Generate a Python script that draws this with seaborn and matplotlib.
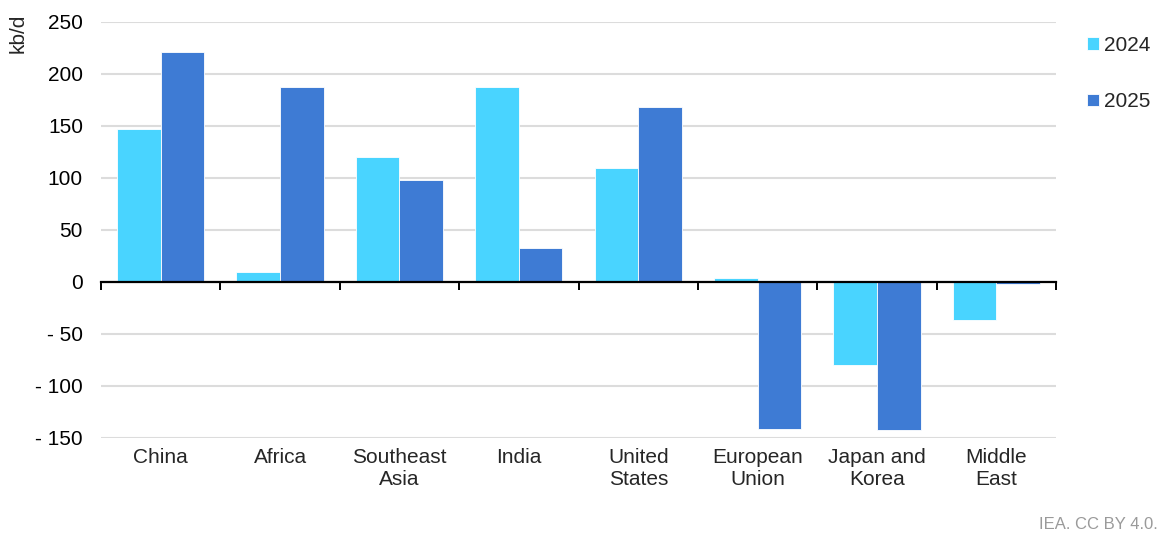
import pandas as pd
import matplotlib
matplotlib.use("Agg")
import matplotlib.pyplot as plt
from matplotlib.ticker import FuncFormatter, FixedLocator
import seaborn as sns

# Oil demand growth by region, kb/d
regions = ["China", "Africa", "Southeast\nAsia", "India", "United\nStates",
           "European\nUnion", "Japan and\nKorea", "Middle\nEast"]
growth_2024 = [147, 10, 120, 187, 110, 4, -80, -37]
growth_2025 = [221, 187, 98, 33, 168, -141, -142, -2]
years = ["2024", "2025"]
yticks = [-150, -100, -50, 0, 50, 100, 150, 200, 250]

df = pd.DataFrame({
    "region": regions * 2,
    "year": [years[0]] * len(regions) + [years[1]] * len(regions),
    "value": growth_2024 + growth_2025,
})

sns.set_style("white")
plt.rcParams["font.family"] = ["Liberation Sans", "DejaVu Sans"]
fs = 15

fig = plt.figure(figsize=(11.62, 5.36), dpi=100)
ax = fig.add_axes([0.0869, 0.183, 0.822, 0.776])

sns.barplot(data=df, x="region", y="value", hue="year", order=regions,
            hue_order=years, palette=["#49D4FF", "#3E7BD4"], saturation=1,
            width=0.73, edgecolor="white", linewidth=0.6, ax=ax, zorder=2)

ax.set_xlim(-0.5, len(regions) - 0.5)
ax.set_ylim(-150, 250)
ax.set_yticks(yticks)
ax.yaxis.set_major_formatter(FuncFormatter(
    lambda v, p: f"- {abs(int(v))}" if v < 0 else f"{int(v)}"))
ax.tick_params(axis="y", length=0, labelsize=fs, pad=13, colors="black")
ax.yaxis.grid(True, color="#DCDCDC", linewidth=1.5, zorder=0)
ax.set_axisbelow(True)
ax.set_xlabel("")
ax.set_ylabel("")

for s in ["left", "right", "top"]:
    ax.spines[s].set_visible(False)
ax.spines["bottom"].set_position(("data", 0))
ax.spines["bottom"].set_color("black")
ax.spines["bottom"].set_linewidth(1.6)
ax.spines["bottom"].set_zorder(3)

# boundary ticks on the zero line, labels at the bottom of the axes
ax.xaxis.set_minor_locator(FixedLocator([i - 0.5 for i in range(len(regions) + 1)]))
ax.tick_params(axis="x", which="minor", bottom=True, length=6, width=1.4,
               direction="out", color="black")
ax.tick_params(axis="x", which="major", length=0, labelbottom=False)

sec = ax.secondary_xaxis(0)
sec.set_xticks(range(len(regions)))
sec.set_xticklabels(regions)
sec.tick_params(length=0, labelsize=fs, pad=7)
sec.spines["bottom"].set_visible(False)
for lab in sec.get_xticklabels():
    lab.set_linespacing(1.25)

fig.text(18 / 1162, 1 - 14 / 536, "kb/d", rotation=90, va="top", ha="center", fontsize=fs)

handles, labels = ax.get_legend_handles_labels()
ax.legend(handles, labels, loc="upper left", bbox_to_anchor=(1.024, 0.987), frameon=False,
          fontsize=fs, handlelength=0.55, handleheight=0.55, handletextpad=0.25,
          labelspacing=1.8, borderaxespad=0)

fig.text(1158 / 1162, 1 - 532 / 536, "IEA. CC BY 4.0.", ha="right", va="bottom",
         fontsize=12, color="#9A9A9A")

fig.savefig("out.png", dpi=100)
